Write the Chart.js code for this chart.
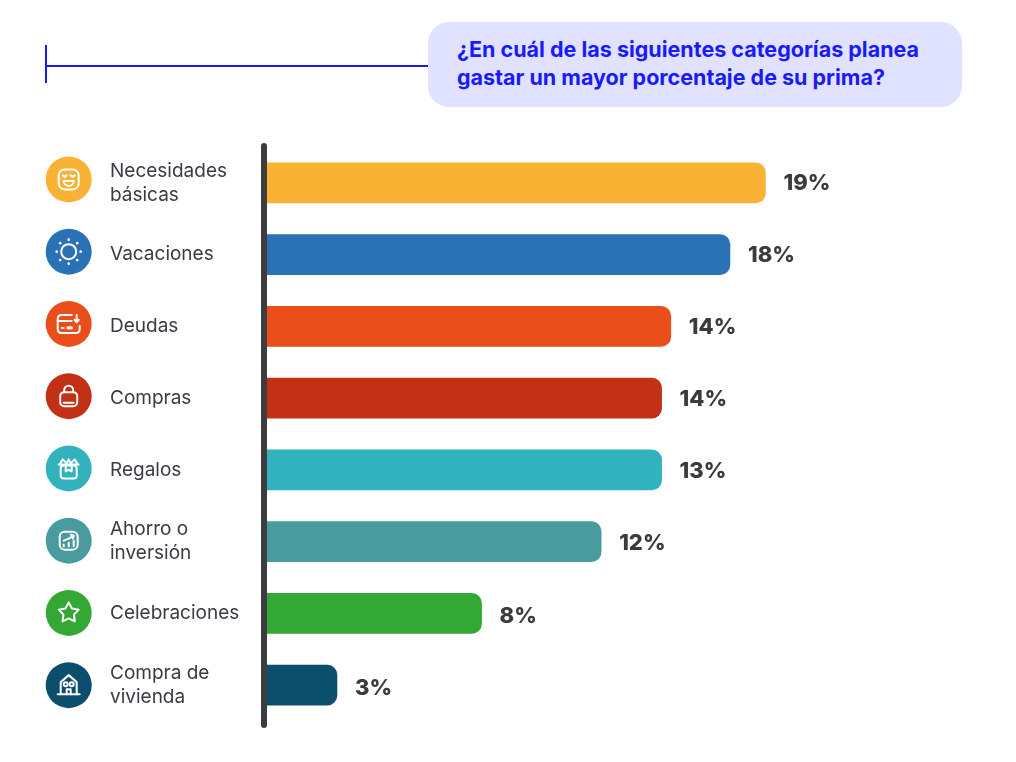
<!DOCTYPE html>
<html>
<head>
<meta charset="utf-8">
<script src="https://cdn.jsdelivr.net/npm/chart.js@4"></script>
<style>
  body { margin: 0; background: #fff; }
  #wrap { position: relative; width: 1016px; height: 762px; overflow: hidden; }
  #canvas1 { position: absolute; left: 0; top: 0; }
  #title {
    position: absolute; left: 428px; top: 22px; width: 534px; height: 85px;
    box-sizing: border-box; padding: 13px 0 0 29px;
    background: #e0e2ff; border-radius: 21px; color: #1a1aff;
    font: 700 21.5px/28px Inter, sans-serif; white-space: nowrap;
  }
  .rule { position: absolute; background: #1a1aff; }
</style>
</head>
<body>
<div id="wrap">
  <canvas id="canvas1" width="1016" height="762"></canvas>
  <div class="rule" style="left:45px;top:45px;width:2px;height:38px"></div>
  <div class="rule" style="left:45px;top:65px;width:383px;height:2px"></div>
  <div id="title">¿En cuál de las siguientes categorías planea<br>gastar un mayor porcentaje de su prima?</div>
</div>
<script>
let categories = [['Necesidades', 'básicas'], 'Vacaciones', 'Deudas', 'Compras', 'Regalos', ['Ahorro o', 'inversión'], 'Celebraciones', ['Compra de', 'vivienda']];
// bars in the picture are not quite to scale with the printed numbers, so both are kept
let barLengths = [19, 17.65, 15.4, 15.05, 15.05, 12.75, 8.2, 2.7];
let valueLabels = ['19%', '18%', '14%', '14%', '13%', '12%', '8%', '3%'];
let colors = ['#f9b233', '#2a71b5', '#e94e1b', '#c23116', '#31b2bc', '#489b9f', '#33a834', '#0b4f6c'];

function rr(c, x, y, w, h, r) {
  c.beginPath();
  c.roundRect(x, y, w, h, r);
  c.stroke();
}
function line(c, pts) {
  c.beginPath();
  pts.forEach(function(p, i) { i ? c.lineTo(p[0], p[1]) : c.moveTo(p[0], p[1]); });
  c.stroke();
}

// little white icons, drawn around 0,0
let icons = [
  function(c) { // smiley
    rr(c, -10, -10, 20, 20, 6);
    line(c, [[-6, -4], [-4, -2.5], [-2, -4]]);
    line(c, [[6, -4], [4, -2.5], [2, -4]]);
    c.beginPath(); c.moveTo(-5, 1.5); c.lineTo(5, 1.5); c.arc(0, 1.5, 5, 0, Math.PI); c.closePath(); c.stroke();
  },
  function(c) { // sun
    c.beginPath(); c.arc(0, 0, 7.5, 0, Math.PI * 2); c.stroke();
    for (let i = 0; i < 8; i++) {
      let a = i * Math.PI / 4;
      c.beginPath(); c.arc(Math.cos(a) * 12, Math.sin(a) * 12, 1.3, 0, Math.PI * 2); c.fill();
    }
  },
  function(c) { // card with arrow
    c.beginPath();
    c.moveTo(3, -9); c.lineTo(-7, -9); c.quadraticCurveTo(-11, -9, -11, -5); c.lineTo(-11, 5);
    c.quadraticCurveTo(-11, 9, -7, 9); c.lineTo(7, 9); c.quadraticCurveTo(11, 9, 11, 5); c.lineTo(11, 2);
    c.stroke();
    line(c, [[-11, -3], [3, -3]]);
    line(c, [[8, -9], [8, -2]]);
    line(c, [[6, -4], [8, -1.5], [10, -4]]);
    line(c, [[-7, 4], [-5, 4]]);
    c.fillRect(-2, 2.5, 6, 3);
  },
  function(c) { // bag
    rr(c, -8.5, -4, 17, 14, 4);
    c.beginPath(); c.moveTo(-4.5, -4); c.lineTo(-4.5, -6); c.arc(0, -6, 4.5, Math.PI, 0); c.lineTo(4.5, -4); c.stroke();
    line(c, [[-5, 6.5], [5, 6.5]]);
  },
  function(c) { // gift box
    rr(c, -8, -3, 16, 13, 3);
    line(c, [[-10, -4], [10, -4]]);
    line(c, [[-9, -4], [-6, -9], [-2, -5], [0, -9], [2, -5], [6, -9], [9, -4]]);
    line(c, [[-3, -3], [-3, 3], [0, 1.5], [3, 3], [3, -3]]);
  },
  function(c) { // growth chart
    rr(c, -9, -9, 18, 18, 5);
    line(c, [[-5, 0], [0, -2], [5, -5]]);
    line(c, [[2, -6], [5, -5], [4, -2]]);
    line(c, [[-5, 4], [-5, 5.5]]);
    line(c, [[0, 2], [0, 5.5]]);
    line(c, [[5, 0], [5, 5.5]]);
  },
  function(c) { // star
    c.beginPath();
    for (let i = 0; i < 10; i++) {
      let a = -Math.PI / 2 + i * Math.PI / 5, d = i % 2 ? 5.5 : 10.5;
      c.lineTo(Math.cos(a) * d, Math.sin(a) * d);
    }
    c.closePath(); c.stroke();
  },
  function(c) { // house
    line(c, [[-8, 9], [-8, -3], [0, -10], [8, -3], [8, 9]]);
    line(c, [[-11, 9], [11, 9]]);
    c.beginPath(); c.arc(-3, -1, 2, 0, Math.PI * 2); c.stroke();
    c.beginPath(); c.arc(3, -1, 2, 0, Math.PI * 2); c.stroke();
    line(c, [[-2, 9], [-2, 4], [2, 4], [2, 9]]);
  }
];

let decorations = {
  id: 'decorations',
  afterDatasetsDraw: function(chart) {
    let c = chart.ctx;
    let yScale = chart.scales.y;
    let bars = chart.getDatasetMeta(0).data;

    // vertical axis bar
    c.save();
    c.strokeStyle = '#3d3d3f';
    c.lineWidth = 6;
    c.lineCap = 'round';
    c.beginPath();
    c.moveTo(264, 146);
    c.lineTo(264, 725);
    c.stroke();
    c.restore();

    bars.forEach(function(bar, i) {
      // value label
      c.save();
      c.fillStyle = '#3b3a3c';
      c.font = '800 22px Inter, sans-serif';
      c.textBaseline = 'middle';
      c.fillText(valueLabels[i], bar.x + 18, bar.y + 0.5 + i * 0.35);
      c.restore();

      // round icon, their spacing is a little wider than the bars'
      let y = yScale.getPixelForTick(i) - 3.5 + i * 0.5;
      c.save();
      c.fillStyle = colors[i];
      c.beginPath();
      c.arc(68.7, y, 23, 0, Math.PI * 2);
      c.fill();
      c.translate(68.7, y);
      c.strokeStyle = '#fff';
      c.fillStyle = '#fff';
      c.lineWidth = 2;
      c.lineJoin = 'round';
      c.lineCap = 'round';
      icons[i](c);
      c.restore();
    });
  }
};

let myChart = document.getElementById('canvas1').getContext('2d');
let barChart = new Chart(myChart, {
  type: 'bar',
  plugins: [decorations],
  data: {
    labels: categories,
    datasets: [{
      data: barLengths,
      backgroundColor: colors,
      barThickness: 40,
      borderSkipped: false,
      borderRadius: { topLeft: 0, bottomLeft: 0, topRight: 10, bottomRight: 10 }
    }]
  },
  options: {
    indexAxis: 'y',
    responsive: false,
    animation: false,
    devicePixelRatio: 1,
    layout: { padding: { left: 110, right: 14, top: 147, bottom: 41 } },
    plugins: { legend: { display: false }, tooltip: { enabled: false } },
    scales: {
      x: { display: false, min: 0, max: 28 },
      y: {
        afterFit: function(scale) { scale.width = 156; },
        grid: { display: false },
        border: { display: false },
        ticks: {
          crossAlign: 'far',
          autoSkip: false,
          labelOffset: 0,
          color: '#3b3a45',
          font: { family: 'Inter, sans-serif', size: 19, lineHeight: 1.26 }
        }
      }
    }
  }
});
</script>
</body>
</html>
